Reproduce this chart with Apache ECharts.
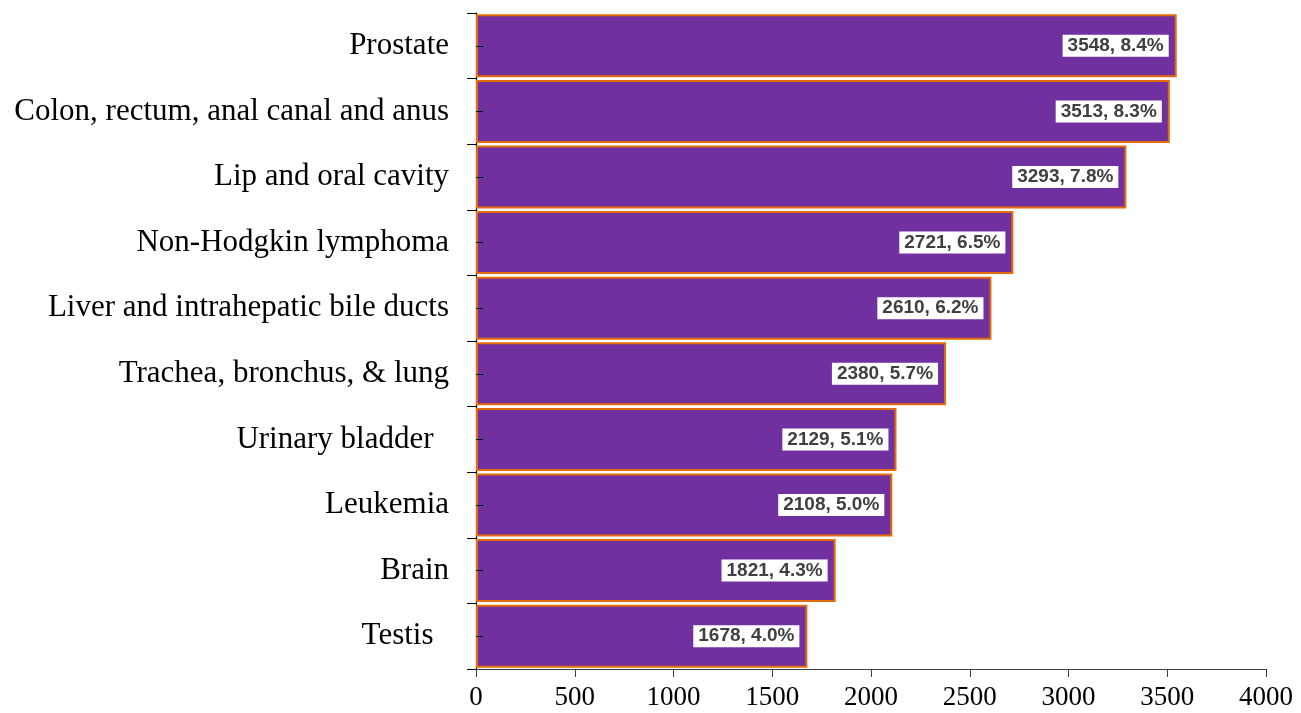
<!DOCTYPE html>
<html>
<head>
<meta charset="utf-8">
<script src="https://cdn.jsdelivr.net/npm/echarts@6/dist/echarts.min.js"></script>
<style>html,body{margin:0;padding:0;background:#fff}#c{width:1301px;height:713px}</style>
</head>
<body>
<div id="c"></div>
<script>
const categories = ["Prostate", "Colon, rectum, anal canal and anus", "Lip and oral cavity", "Non-Hodgkin lymphoma", "Liver and intrahepatic bile ducts", "Trachea, bronchus, & lung", "Urinary bladder  ", "Leukemia", "Brain", "Testis  "];
const counts = [3548, 3513, 3293, 2721, 2610, 2380, 2129, 2108, 1821, 1678];
const percents = ["8.4%", "8.3%", "7.8%", "6.5%", "6.2%", "5.7%", "5.1%", "5.0%", "4.3%", "4.0%"];
const xTicks = [0, 500, 1000, 1500, 2000, 2500, 3000, 3500, 4000];

const chart = echarts.init(document.getElementById('c'));
const grid = { left: 476, right: 35, top: 13, bottom: 44 };
chart.setOption({
  animation: false,
  grid: grid,
  xAxis: {
    type: 'value', min: xTicks[0], max: xTicks[xTicks.length - 1], interval: xTicks[1] - xTicks[0],
    axisLine: { show: true, lineStyle: { color: '#404040', width: 1 } },
    axisTick: { show: true, length: 8, lineStyle: { color: '#404040' } },
    splitLine: { show: false },
    axisLabel: { margin: 15, color: '#000', fontFamily: 'Liberation Serif', fontSize: 27, formatter: v => String(v) }
  },
  yAxis: [{
    type: 'category', data: categories, inverse: true,
    axisLine: { show: true, lineStyle: { color: '#000', width: 1.2 } },
    axisTick: { show: true, length: 9, alignWithLabel: false, lineStyle: { color: '#000' } },
    axisLabel: { margin: 27, color: '#000', fontFamily: 'Liberation Serif', fontSize: 31, padding: [9, 0, 0, 0] }
  }, {
    type: 'category', data: categories, inverse: true, position: 'left', z: 5,
    axisLine: { show: false },
    axisTick: { show: true, inside: true, length: 7, alignWithLabel: true, lineStyle: { color: '#000' } },
    axisLabel: { show: false }
  }],
  series: [{
    type: 'bar', data: counts, yAxisIndex: 0, barCategoryGap: '4%',
    itemStyle: { color: '#7030A0', borderColor: '#E46C0A', borderWidth: 2 },
    label: {
      show: true, position: 'insideRight', distance: 8,
      formatter: p => p.value + ', ' + percents[p.dataIndex],
      backgroundColor: '#fff', padding: [2, 5, 1, 5],
      color: '#404040', fontFamily: 'Liberation Sans', fontWeight: 'bold', fontSize: 19
    }
  }]
});
</script>
</body>
</html>
